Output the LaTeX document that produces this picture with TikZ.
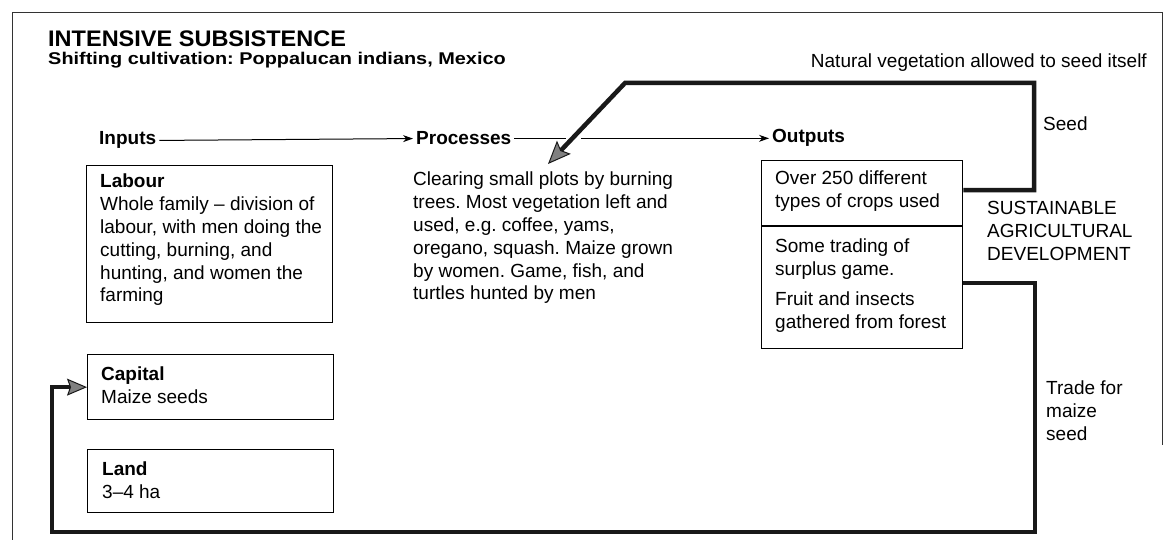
\documentclass[tikz,border=0pt]{standalone}
\usepackage{fontspec}
\setmainfont{Liberation Sans}
\usetikzlibrary{arrows.meta}
\frenchspacing
\begin{document}
\begin{tikzpicture}[x=1pt,y=-1pt,
  txt/.style={font=\fontsize{19}{22.8}\selectfont, align=left, inner sep=0pt, anchor=north west, execute at begin node=\strut},
  lbl/.style={font=\fontsize{19}{22.8}\selectfont\bfseries, inner xsep=3pt, inner ysep=0pt, anchor=base west},
  box/.style={draw, line width=1.3pt, anchor=north west, inner sep=0pt},
  flow/.style={line width=1pt, -{Stealth[length=10pt,width=7pt]}},
  loopline/.style={line width=4.5pt, draw=black!90, line join=miter},
]
\fill[white] (0,0) rectangle (1166,540);
\useasboundingbox (0,0) rectangle (1166,540);

% frame
\draw[line width=1pt, black!80] (12,540) -- (12,13) -- (1162,13) -- (1162,445);

% titles
\node[anchor=base west, inner sep=0pt, xscale=1.045, font=\fontsize{22.5}{26}\selectfont\bfseries] (title) at (48,47) {INTENSIVE SUBSISTENCE};
\node[anchor=base west, inner sep=0pt, xscale=1.17, font=\fontsize{17}{20}\selectfont\bfseries] (subtitle) at (48,65) {Shifting cultivation: Poppalucan indians, Mexico};
\node[anchor=base east, inner sep=0pt, font=\fontsize{19}{22.8}\selectfont] (natveg) at (1147,68) {Natural vegetation allowed to seed itself};

% heading labels
\node[lbl] (inputs) at (96,145) {Inputs};
\node[lbl] (processes) at (413,145) {Processes};
\node[lbl] (outputs) at (769,143) {Outputs};

\coordinate (gapL) at (566,139);
\coordinate (gapR) at (581,139);
\draw[flow] (inputs.east) -- (processes.west);
\draw[line width=1pt] (processes.east) -- (gapL |- processes.east);
\draw[flow] (gapR |- outputs.west) -- (outputs.west);

% input boxes
\node[box, minimum width=246pt, minimum height=157pt] (labourbox) at (86,165) {};
\node[txt] (labourtxt) at (100,174) {\textbf{Labour}\\Whole family – division of\\labour, with men doing the\\cutting, burning, and\\hunting, and women the\\farming};

\node[box, minimum width=246pt, minimum height=65pt] (capbox) at (87,354) {};
\node[txt] (captxt) at (101,367) {\textbf{Capital}\\Maize seeds};

\node[box, minimum width=246pt, minimum height=63pt] (landbox) at (87,449) {};
\node[txt] (landtxt) at (102,462) {\textbf{Land}\\3–4 ha};

% processes text
\node[txt] (proctxt) at (413,172) {Clearing small plots by burning\\trees. Most vegetation left and\\used, e.g. coffee, yams,\\oregano, squash. Maize grown\\by women. Game, fish, and\\turtles hunted by men};

% outputs box
\node[box, minimum width=201pt, minimum height=188pt] (outbox) at (761,160) {};
\draw[line width=1.3pt] ([yshift=-66pt]outbox.north west) -- ([yshift=-66pt]outbox.north east);
\node[txt] (outtop) at (775,171) {Over 250 different\\types of crops used};
\node[txt] (outlow) at (775,239) {Some trading of\\surplus game.\\[7pt]Fruit and insects\\gathered from forest};

% side texts
\node[txt] (sustain) at (987,201) {SUSTAINABLE\\AGRICULTURAL\\DEVELOPMENT};
\node[txt] (seed) at (1043,114) {Seed};
\node[txt] (trade) at (1046,381) {Trade for\\maize\\seed};

% feedback loops
\coordinate (c1) at (1034,83);
\coordinate (c2) at (625,83);
\coordinate (tip1) at (548,164);
\draw[loopline, -{Stealth[length=23pt,width=19pt,inset=4pt,line width=1pt,fill=black!50]}]
  ([yshift=-30pt]outbox.north east) -| (c1) -- (c2) -- (tip1);

\coordinate (d1) at (1035,532);
\coordinate (d2) at (52,532);
\draw[loopline, -{Stealth[length=20pt,width=17pt,inset=3pt,line width=1pt,fill=black!50]}]
  ([yshift=-123pt]outbox.north east) -| (d1) -- (d2) |- (capbox.west);
\end{tikzpicture}
\end{document}
